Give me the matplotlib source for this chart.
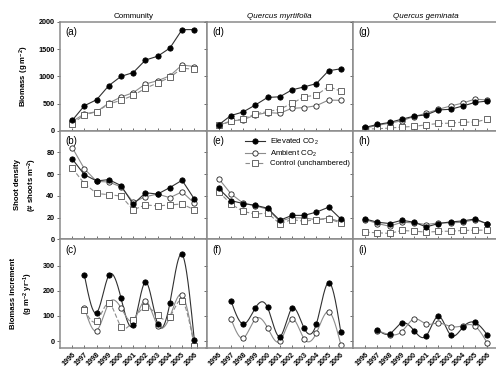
import numpy as np
import matplotlib
matplotlib.use("Agg")
import matplotlib.pyplot as plt
from matplotlib.lines import Line2D

plt.rcParams['font.family'] = ['Liberation Sans', 'DejaVu Sans']
plt.rcParams['mathtext.fontset'] = 'custom'
plt.rcParams['mathtext.rm'] = 'Liberation Sans'
plt.rcParams['mathtext.bf'] = 'Liberation Sans:bold'
plt.rcParams['mathtext.it'] = 'Liberation Sans:italic'

years = list(range(1996, 2007))
inc_years = list(range(1997, 2007))

# Biomass (g m-2)
bio_comm_elev = [190, 460, 570, 830, 1000, 1070, 1300, 1370, 1520, 1860, 1860]
bio_comm_amb = [170, 310, 350, 510, 620, 700, 860, 920, 1010, 1210, 1180]
bio_comm_ctrl = [130, 290, 350, 490, 560, 650, 780, 880, 980, 1150, 1130]

bio_myrt_elev = [109, 279, 345, 473, 612, 624, 751, 806, 867, 1103, 1139]
bio_myrt_amb = [97, 182, 200, 291, 333, 321, 412, 424, 460, 564, 558]
bio_myrt_ctrl = [97, 170, 218, 309, 351, 394, 503, 624, 654, 812, 727]

bio_gem_elev = [61, 115, 152, 212, 267, 291, 382, 394, 455, 521, 545]
bio_gem_amb = [48, 97, 139, 182, 261, 321, 394, 455, 509, 582, 564]
bio_gem_ctrl = [30, 36, 48, 67, 79, 109, 133, 139, 158, 158, 212]

# Shoot density (# shoots m-2)
sd_comm_elev = [74, 59.5, 53.8, 55, 49.5, 32.3, 42.9, 41.7, 47.7, 54.4, 37.2]
sd_comm_amb = [84.5, 64.9, 53.4, 52.8, 48.3, 34.2, 39.3, 41.7, 38.4, 43.8, 33.3]
sd_comm_ctrl = [65.5, 51.3, 42.3, 41.1, 39.9, 27.2, 31.7, 30.8, 31.7, 32.6, 27.2]

sd_myrt_elev = [46.9, 35.7, 33, 31.4, 28.7, 17.6, 22.1, 22.1, 25.1, 29.6, 18.8]
sd_myrt_amb = [55.9, 42, 33.3, 30.9, 27.8, 16.7, 20, 19.7, 18.2, 19.7, 16.1]
sd_myrt_ctrl = [43.8, 32.6, 25.7, 23.3, 24.2, 14.6, 18.2, 16.7, 18.2, 18.8, 15.2]

sd_gem_elev = [18.8, 15.8, 14.6, 17.6, 15.8, 11.5, 14.6, 16.1, 17, 18.8, 14.3]
sd_gem_amb = [18.2, 14.6, 12.1, 15.8, 15.2, 13.7, 15.2, 15.2, 15.8, 18.2, 14.3]
sd_gem_ctrl = [6.7, 6.1, 5.5, 8.2, 7.6, 6.7, 7.3, 7.6, 8.2, 8.5, 8.5]

# Biomass increment (g m-2 yr-1)
inc_comm_elev = [262, 113, 262, 171, 64, 235, 68, 151, 345, 5]
inc_comm_amb = [132, 42, 151, 132, 82, 160, 62, 97, 183, -17]
inc_comm_ctrl = [125, 79, 150, 58, 84, 134, 103, 97, 160, -20]

inc_myrt_elev = [161, 68, 132, 134, 18, 130, 51, 68, 233, 36]
inc_myrt_amb = [89, 12, 88, 53, -1, 88, 9, 32, 117, -14]

inc_gem_elev = [46, 29, 72, 42, 21, 99, 24, 55, 74, 25]
inc_gem_amb = [42, 26, 38, 88, 68, 72, 58, 61, 59, -8]

col_titles = ["Community", "Quercus myrtifolia", "Quercus geminata"]
title_styles = ["normal", "italic", "italic"]
panel_tags = [["(a)", "(d)", "(g)"], ["(b)", "(e)", "(h)"], ["(c)", "(f)", "(i)"]]
row_labels = [r"Biomass (g m$^{\mathbf{-2}}$)",
              "Shoot density\n" + r"(# shoots m$^{\mathbf{-2}}$)",
              "Biomass increment\n" + r"(g m$^{\mathbf{-2}}$ yr$^{\mathbf{-1}}$)"]
legend_labels = [r"Elevated CO$_2$", r"Ambient CO$_2$", "Control (unchambered)"]


def natural_spline(x, y, n=300):
    x = np.asarray(x, float)
    y = np.asarray(y, float)
    k = len(x)
    h = np.diff(x)
    A = np.zeros((k, k))
    b = np.zeros(k)
    A[0, 0] = A[-1, -1] = 1
    for i in range(1, k - 1):
        A[i, i - 1] = h[i - 1]
        A[i, i] = 2 * (h[i - 1] + h[i])
        A[i, i + 1] = h[i]
        b[i] = 6 * ((y[i + 1] - y[i]) / h[i] - (y[i] - y[i - 1]) / h[i - 1])
    M = np.linalg.solve(A, b)
    xs = np.linspace(x[0], x[-1], n)
    idx = np.clip(np.searchsorted(x, xs) - 1, 0, k - 2)
    x0, x1 = x[idx], x[idx + 1]
    hh = x1 - x0
    t0 = x1 - xs
    t1 = xs - x0
    ys = (M[idx] * t0 ** 3 / (6 * hh) + M[idx + 1] * t1 ** 3 / (6 * hh)
          + (y[idx] / hh - M[idx] * hh / 6) * t0
          + (y[idx + 1] / hh - M[idx + 1] * hh / 6) * t1)
    return xs, ys


styles = {
    "elev": dict(line_color="#303030", ls="-", marker="o", mfc="black", mec="black"),
    "amb": dict(line_color="#8c8c8c", ls="-", marker="o", mfc="white", mec="#202020"),
    "ctrl": dict(line_color="#8c8c8c", ls=(0, (4, 2)), marker="s", mfc="white", mec="#505050"),
}
ms = 3.8
lw = 0.8

rows = [
    [[("elev", bio_comm_elev), ("amb", bio_comm_amb), ("ctrl", bio_comm_ctrl)],
     [("elev", bio_myrt_elev), ("amb", bio_myrt_amb), ("ctrl", bio_myrt_ctrl)],
     [("elev", bio_gem_elev), ("amb", bio_gem_amb), ("ctrl", bio_gem_ctrl)]],
    [[("elev", sd_comm_elev), ("amb", sd_comm_amb), ("ctrl", sd_comm_ctrl)],
     [("elev", sd_myrt_elev), ("amb", sd_myrt_amb), ("ctrl", sd_myrt_ctrl)],
     [("elev", sd_gem_elev), ("amb", sd_gem_amb), ("ctrl", sd_gem_ctrl)]],
    [[("elev", inc_comm_elev), ("amb", inc_comm_amb), ("ctrl", inc_comm_ctrl)],
     [("elev", inc_myrt_elev), ("amb", inc_myrt_amb)],
     [("elev", inc_gem_elev), ("amb", inc_gem_amb)]],
]
ylims = [(0, 2000), (0, 100), (-28, 405)]
yticks = [[0, 500, 1000, 1500, 2000], [0, 20, 40, 60, 80], [0, 100, 200, 300]]

W, H = 496, 372
fig = plt.figure(figsize=(W / 100, H / 100), dpi=100)
left_px, col_w = 60, 146.5
top_px, row_h = 22, 108.7
spine_col = "#8a8a8a"

axes = {}
for r in range(3):
    for c in range(3):
        x0 = (left_px + c * col_w) / W
        y0 = 1 - (top_px + (r + 1) * row_h) / H
        ax = fig.add_axes([x0, y0, col_w / W, row_h / H])
        axes[(r, c)] = ax
        for sp in ax.spines.values():
            sp.set_color(spine_col)
            sp.set_linewidth(1.1)
        ax.set_xlim(1995, 2007)
        ax.set_ylim(*ylims[r])
        ax.set_xticks(years)
        ax.set_yticks(yticks[r])
        ax.tick_params(axis='x', direction='in', length=2.5, width=0.6, color="#555555")
        ax.tick_params(axis='y', direction='out', length=2.5, width=0.6, color="#555555")
        if c == 0:
            ax.set_yticklabels([str(v) for v in yticks[r]], fontsize=5.2, fontweight='bold')
            ax.tick_params(axis='y', pad=1.5)
        else:
            ax.set_yticklabels([])
        if r == 2:
            ax.set_xticklabels([str(y) for y in years], rotation=45, fontsize=5.2,
                               fontweight='bold', ha='right', rotation_mode='anchor')
            ax.tick_params(axis='x', pad=2)
        else:
            ax.set_xticklabels([])

        xs_data = years if r < 2 else inc_years
        for key, vals in rows[r][c]:
            st = styles[key]
            if r < 2:
                ax.plot(xs_data, vals, color=st["line_color"], ls=st["ls"], lw=lw,
                        marker=st["marker"], ms=ms, mfc=st["mfc"], mec=st["mec"],
                        mew=0.6, zorder=3 if key == "elev" else 2)
            else:
                sx, sy = natural_spline(xs_data, vals)
                ax.plot(sx, sy, color=st["line_color"], ls=st["ls"], lw=lw, zorder=2)
                ax.plot(xs_data, vals, ls="none", marker=st["marker"], ms=ms,
                        mfc=st["mfc"], mec=st["mec"], mew=0.6,
                        zorder=3 if key == "elev" else 2)

        ax.text(0.04, 0.95, panel_tags[r][c], transform=ax.transAxes, fontsize=7,
                va='top', ha='left')
        if r == 0:
            ax.set_title(col_titles[c], fontsize=5.8, style=title_styles[c], pad=3)

for r in range(3):
    axes[(r, 0)].set_ylabel(row_labels[r], fontsize=5.6, fontweight='bold',
                            labelpad=5, linespacing=1.6)

# Legend inside panel (e)
handles = []
for key in ["elev", "amb", "ctrl"]:
    st = styles[key]
    handles.append(Line2D([], [], color=st["line_color"], ls=st["ls"], lw=lw,
                          marker=st["marker"], ms=ms, mfc=st["mfc"], mec=st["mec"], mew=0.6))
axes[(1, 1)].legend(handles, legend_labels, loc='upper left', bbox_to_anchor=(0.24, 0.97),
                    frameon=False, fontsize=5.6, handlelength=2.6, handletextpad=0.6,
                    labelspacing=0.15, borderaxespad=0)

fig.savefig("out.png", dpi=100)
